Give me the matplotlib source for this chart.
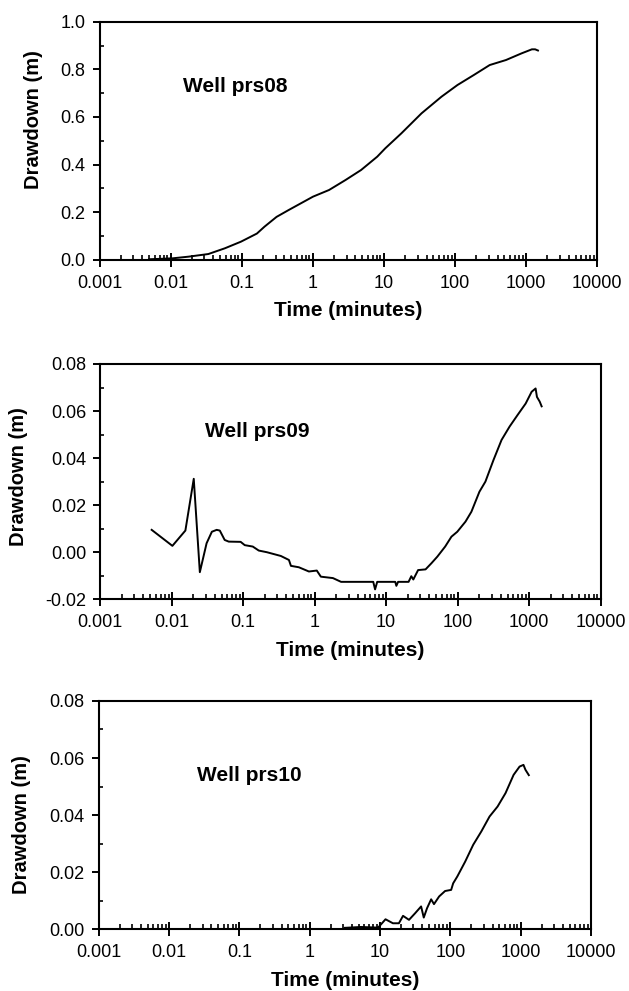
import matplotlib
matplotlib.use("Agg")
import matplotlib.pyplot as plt
from matplotlib.ticker import LogLocator, FixedLocator, MultipleLocator, FuncFormatter

plt.rcParams["font.family"] = ["Liberation Sans", "DejaVu Sans"]

# Well prs08 drawdown (m) vs time (minutes)
t08 = [0.005, 0.0075, 0.0107, 0.018, 0.034, 0.058, 0.098, 0.164, 0.21, 0.31, 0.46,
       1.01, 1.7, 2.9, 4.8, 8.1, 10.5, 17.7, 34, 65, 109, 185, 310, 525, 870,
       1216, 1350, 1480]
s08 = [0.002, 0.004, 0.006, 0.013, 0.024, 0.048, 0.076, 0.110, 0.139, 0.180, 0.209,
       0.265, 0.293, 0.335, 0.377, 0.433, 0.468, 0.531, 0.615, 0.685, 0.734, 0.776,
       0.818, 0.839, 0.867, 0.884, 0.884, 0.879]

# Well prs09
t09 = [0.00523, 0.0102, 0.0155, 0.0203, 0.0247, 0.0307, 0.0364, 0.0425, 0.047,
       0.055, 0.0627, 0.092, 0.105, 0.136, 0.165, 0.214, 0.336, 0.436, 0.465, 0.6,
       0.83, 1.07, 1.22, 1.8, 2.34, 4.46, 6.6, 7.0, 7.5, 13.4, 13.9, 14.7, 20.6,
       22.5, 24, 28, 35.6, 43, 52, 67, 82, 99, 129, 156, 202, 245, 318, 412, 534,
       690, 897, 1087, 1235, 1290, 1410, 1500]
s09 = [0.0095, 0.0027, 0.0092, 0.0312, -0.0085, 0.0038, 0.0087, 0.0095, 0.0092,
       0.0052, 0.0045, 0.0044, 0.0030, 0.0024, 0.0007, 0.0, -0.0016, -0.0033,
       -0.0058, -0.0064, -0.0082, -0.0078, -0.0104, -0.0110, -0.0126, -0.0126,
       -0.0126, -0.0158, -0.0126, -0.0126, -0.0143, -0.0126, -0.0126, -0.0102,
       -0.0116, -0.0076, -0.0073, -0.0047, -0.0019, 0.0024, 0.0066, 0.0087, 0.0130,
       0.0172, 0.0257, 0.0300, 0.0392, 0.0477, 0.0534, 0.0583, 0.0632, 0.0682,
       0.0696, 0.0660, 0.0640, 0.0620]

# Well prs10
t10 = [3.16, 5.35, 9.0, 9.6, 12, 15.3, 18.6, 21.3, 25.9, 31.6, 38.5, 42, 46.8,
       53.5, 58.7, 69.5, 84.4, 103, 110, 126, 163, 212, 277, 362, 471, 611, 796,
       968, 1100, 1172, 1310]
s10 = [0.0005, 0.0008, 0.0006, 0.0008, 0.0035, 0.0021, 0.0021, 0.0047, 0.0033,
       0.0056, 0.0080, 0.0041, 0.0074, 0.0105, 0.0088, 0.0115, 0.0134, 0.0138,
       0.0161, 0.0185, 0.0237, 0.0296, 0.0343, 0.0395, 0.0430, 0.0477, 0.0541,
       0.0570, 0.0576, 0.0559, 0.0540]

# data, name, ylim, major/minor y step, format, axes rect, name pos, ylabel pos
panels = [
    (t08, s08, "Well prs08", (0.0, 1.0), 0.2, 0.1, "%.1f",
     [0.1582, 0.7379, 0.7908, 0.2402], (0.167, 0.727), (-0.114, 0.59)),
    (t09, s09, "Well prs09", (-0.02, 0.08), 0.02, 0.01, "%.2f",
     [0.1595, 0.3953, 0.7952, 0.2374], (0.209, 0.712), (-0.145, 0.52)),
    (t10, s10, "Well prs10", (0.0, 0.08), 0.02, 0.01, "%.2f",
     [0.1569, 0.0623, 0.7825, 0.2304], (0.200, 0.672), (-0.138, 0.46)),
]

xticks = [0.001, 0.01, 0.1, 1, 10, 100, 1000, 10000]
xlabels = ["0.001", "0.01", "0.1", "1", "10", "100", "1000", "10000"]

fig = plt.figure(figsize=(6.29, 9.91), dpi=100)

for t, s, name, ylim, ymaj, ymin, fmt, rect, tpos, lpos in panels:
    ax = fig.add_axes(rect)
    ax.plot(t, s, color="black", lw=1.4)
    ax.set_xscale("log")
    ax.set_xlim(0.001, 10000)
    ax.set_ylim(*ylim)
    ax.xaxis.set_major_locator(FixedLocator(xticks))
    ax.set_xticklabels(xlabels)
    ax.xaxis.set_minor_locator(LogLocator(base=10, subs=range(2, 10), numticks=20))
    ax.xaxis.set_minor_formatter(FuncFormatter(lambda v, p: ""))
    ax.yaxis.set_major_locator(MultipleLocator(ymaj))
    ax.yaxis.set_minor_locator(MultipleLocator(ymin))
    ax.yaxis.set_major_formatter(FuncFormatter(lambda v, p, f=fmt: f % (0 if abs(v) < 1e-9 else v)))
    ax.tick_params(axis="x", which="major", direction="inout", length=9.5, width=1.4,
                   labelsize=13, pad=6)
    ax.tick_params(axis="x", which="minor", direction="in", length=3.5, width=1.2)
    ax.tick_params(axis="y", which="major", direction="out", length=5, width=1.4,
                   labelsize=13, pad=5)
    ax.tick_params(axis="y", which="minor", direction="in", length=3, width=1.2)
    for sp in ax.spines.values():
        sp.set_linewidth(1.5)
    ax.set_xlabel("Time (minutes)", fontsize=15, fontweight="bold", labelpad=7)
    ax.set_ylabel("Drawdown (m)", fontsize=14.5, fontweight="bold")
    ax.yaxis.set_label_coords(*lpos)
    ax.text(tpos[0], tpos[1], name, transform=ax.transAxes, fontsize=15,
            fontweight="bold", va="center", ha="left")

fig.savefig("out.png", dpi=100)
